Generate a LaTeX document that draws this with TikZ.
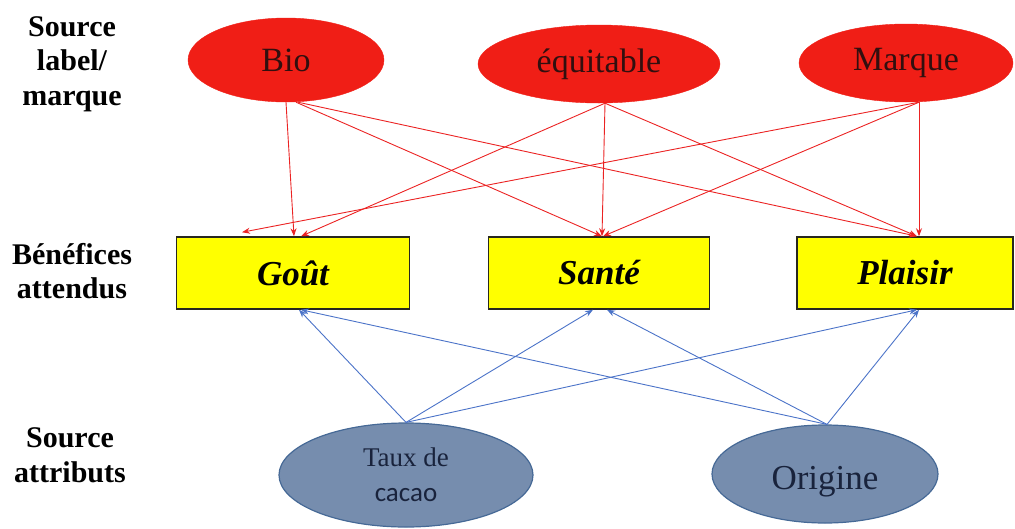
\documentclass[tikz,border=0pt]{standalone}
\usepackage{fontspec}
\setmainfont{Liberation Serif}
\newfontfamily\calfont{Carlito}
\usetikzlibrary{shapes.geometric,arrows.meta,calc}
\definecolor{redfill}{RGB}{240,30,22}
\definecolor{redline}{RGB}{235,35,35}
\definecolor{redtext}{RGB}{50,15,15}
\definecolor{yel}{RGB}{255,255,0}
\definecolor{boxline}{RGB}{40,40,30}
\definecolor{bluefill}{RGB}{118,141,174}
\definecolor{blueedge}{RGB}{70,105,150}
\definecolor{bluetext}{RGB}{25,35,60}
\definecolor{blueline}{RGB}{75,115,200}
\begin{document}
\begin{tikzpicture}[x=1pt,y=-1pt,
  redell/.style={ellipse,fill=redfill,draw=redfill,inner sep=0pt,text=redtext,font=\fontsize{34}{36}\selectfont},
  benbox/.style={rectangle,fill=yel,draw=boxline,line width=1.5pt,minimum width=233pt,minimum height=72pt,inner sep=0pt,font=\fontsize{35}{38}\selectfont\bfseries\itshape},
  blueell/.style={ellipse,fill=bluefill,draw=blueedge,line width=1.2pt,inner sep=0pt,text=bluetext},
  sidelab/.style={align=center,font=\fontsize{30}{34.5}\selectfont\bfseries},
  redarr/.style={draw=redline,line width=0.9pt,-{Stealth[length=8pt,width=6pt]}},
  bluearr/.style={draw=blueline,line width=0.9pt,-{Stealth[length=8pt,width=6pt]}}
]
\useasboundingbox (0,0) rectangle (1015,528);
% side labels
\node[sidelab] (l1) at (72,64) {Source\\label/\\marque};
\node[sidelab] (l2) at (72,271) {B\'en\'efices\\attendus};
\node[sidelab] (l3) at (70,455) {Source\\attributs};
% top ellipses
\node[redell,minimum width=196pt,minimum height=84pt] (bio) at (286,60) {Bio};
\node[redell,minimum width=242pt,minimum height=78pt] (equ) at (599,64) {\'equitable};
\node[redell,minimum width=214pt,minimum height=78pt] (marq) at (906,63) {Marque};
% boxes
\node[benbox] (gout) at (293,273) {Go\^ut};
\node[benbox,minimum width=221pt] (sante) at (599,273) {Sant\'e};
\node[benbox,minimum width=216pt] (plaisir) at (905,273) {Plaisir};
% bottom ellipses
\node[blueell,minimum width=254pt,minimum height=104pt,align=center,font=\fontsize{27}{35}\selectfont] (taux) at (406,475) {Taux de\\{\calfont cacao}};
\node[blueell,minimum width=226pt,minimum height=98pt,font=\fontsize{35}{38}\selectfont,text height=30pt,text depth=0pt] (orig) at (825,474) {Origine};
% coordinates
\coordinate (gl) at ($(gout.north)+(-51,-4)$);
% red arrows
\draw[redarr] (bio.south) -- ([xshift=1pt]gout.north);
\draw[redarr] ([xshift=10pt]bio.south) -- ([xshift=3pt]sante.north);
\draw[redarr] ([xshift=12pt]bio.south) -- ([xshift=12pt]plaisir.north);
\draw[redarr] ([xshift=6pt]equ.south) -- ([xshift=8pt]gout.north);
\draw[redarr] ([xshift=6pt]equ.south) -- ([xshift=3pt]sante.north);
\draw[redarr] ([xshift=6pt]equ.south) -- ([xshift=12pt]plaisir.north);
\draw[redarr] ([xshift=13pt]marq.south) -- (gl);
\draw[redarr] ([xshift=13pt]marq.south) -- ([xshift=4pt]sante.north);
\draw[redarr] ([xshift=13pt]marq.south) -- ([xshift=14pt]plaisir.north);
% blue arrows
\draw[bluearr] (taux.north) -- ([xshift=6pt]gout.south);
\draw[bluearr] (taux.north) -- ([xshift=-6pt]sante.south);
\draw[bluearr] (taux.north) -- ([xshift=12pt]plaisir.south);
\draw[bluearr] ([xshift=2pt]orig.north) -- ([xshift=8pt]gout.south);
\draw[bluearr] ([xshift=2pt]orig.north) -- ([xshift=8pt]sante.south);
\draw[bluearr] ([xshift=2pt]orig.north) -- ([xshift=14pt]plaisir.south);
\end{tikzpicture}
\end{document}
